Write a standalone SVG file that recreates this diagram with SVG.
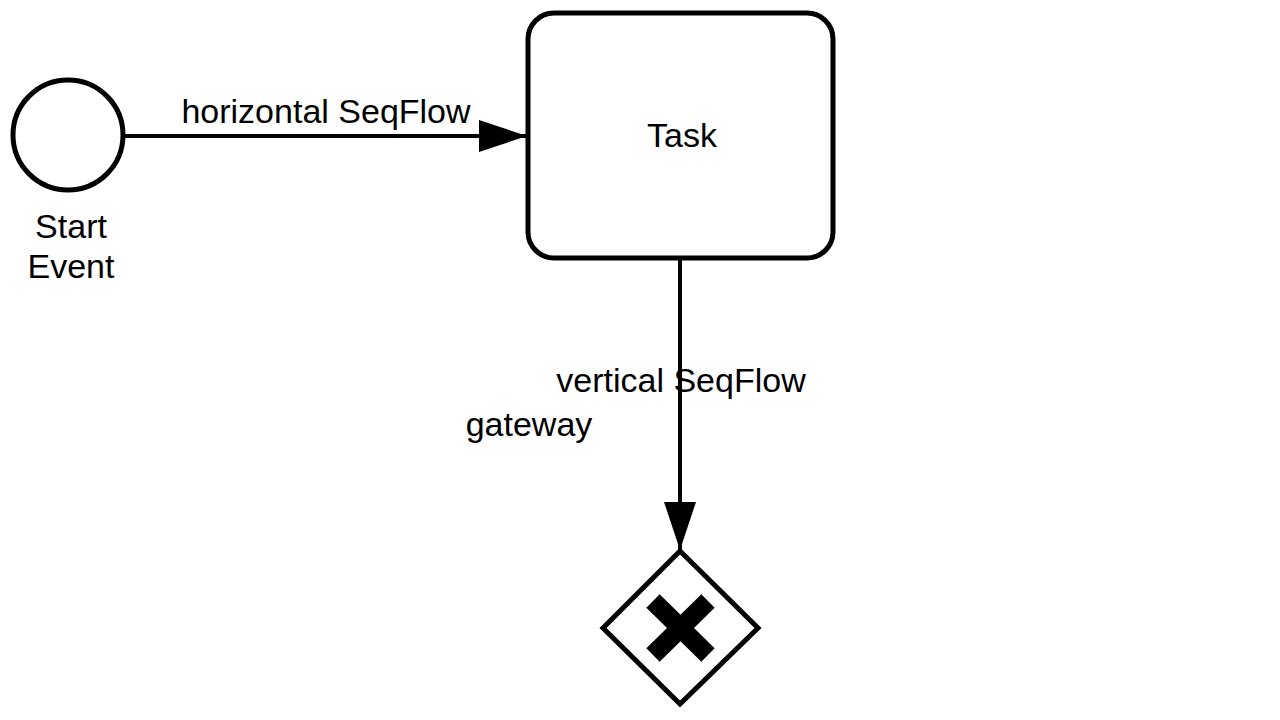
<svg xmlns="http://www.w3.org/2000/svg" width="1280" height="720" viewBox="0 0 1280 720">
<defs>
<style>
.shape{fill:#fff;stroke:#000;stroke-width:5}
.flow{fill:none;stroke:#000;stroke-width:4}
.lbl{font-family:"Liberation Sans",Arial,sans-serif;font-size:34px;fill:#000;text-anchor:middle}
.mark{stroke:#000;stroke-width:19}
</style>
<marker id="arrow" viewBox="0 0 48 32" refX="48" refY="16" markerWidth="48" markerHeight="32" markerUnits="userSpaceOnUse" orient="auto">
<path d="M0,0 L48,16 L0,32 Z" fill="#000"/>
</marker>
</defs>
<rect width="1280" height="720" fill="#fff"/>
<g id="connectors">
<g id="flow-horizontal">
<line class="flow" x1="124" y1="136" x2="527" y2="136" marker-end="url(#arrow)"/>
<text class="lbl" x="326" y="123">horizontal SeqFlow</text>
</g>
<g id="flow-vertical">
<line class="flow" x1="680" y1="259" x2="680" y2="550" marker-end="url(#arrow)"/>
<text class="lbl" x="681" y="392">vertical SeqFlow</text>
</g>
</g>
<g id="start-event">
<circle class="shape" cx="68" cy="135" r="55"/>
<text class="lbl" x="71" y="238">Start</text>
<text class="lbl" x="71" y="278">Event</text>
</g>
<g id="task">
<rect class="shape" x="528" y="13" width="305" height="245" rx="26"/>
<text class="lbl" x="682" y="147">Task</text>
</g>
<g id="gateway">
<polygon class="shape" points="680,551 758,628 680,704 603,628"/>
<line class="mark" x1="653" y1="601" x2="708" y2="655"/>
<line class="mark" x1="708" y1="601" x2="653" y2="655"/>
<text class="lbl" x="529" y="436">gateway</text>
</g>
</svg>
